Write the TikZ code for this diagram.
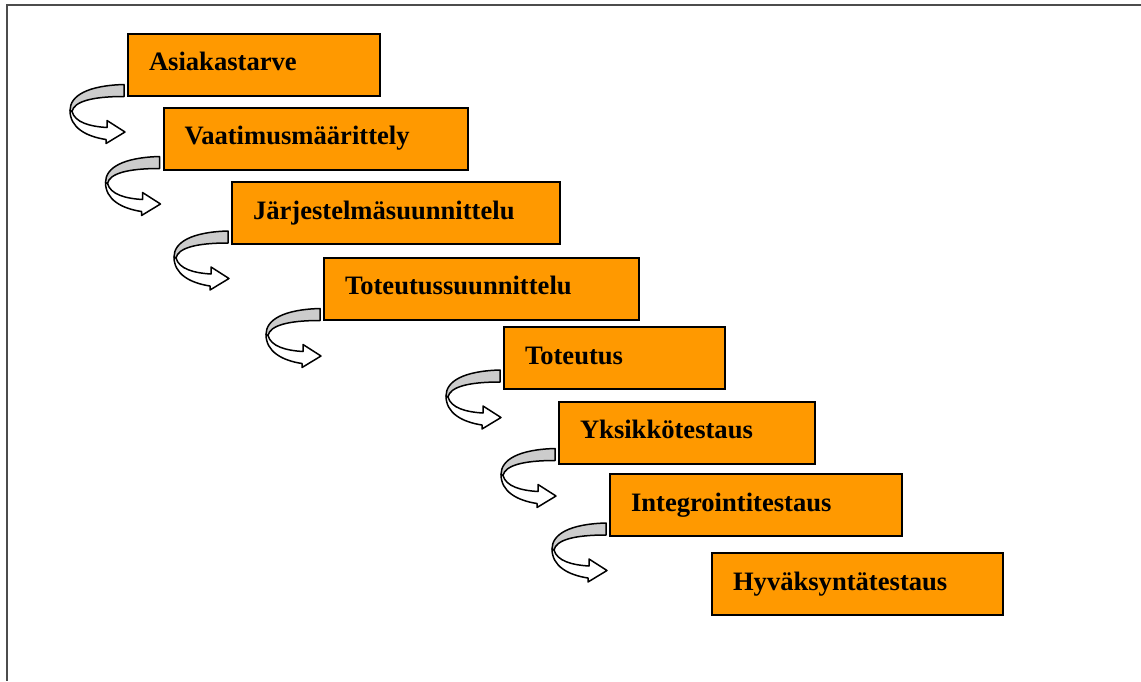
\documentclass[tikz,border=0pt]{standalone}
\usepackage{fontspec}
\setmainfont{Liberation Serif}
\usepackage{tikz}

\definecolor{stageorange}{RGB}{255,153,0}
\definecolor{bandgray}{RGB}{204,204,204}

\tikzset{
    arrowline/.style={draw=black, line width=1.5pt, line join=round},
    turnarrow/.pic={
        \draw[arrowline, fill=white] (-54,14) .. controls (-54,31) and (-38,40) .. (-18,43)
            -- (-18,47) -- (1,35.5) -- (-17,24) -- (-17,31)
            .. controls (-34,30) and (-49,26) .. (-52,15) -- cycle;
        \draw[arrowline, fill=bandgray] (0,-12) .. controls (-36,-11) and (-54,-1) .. (-54,14)
            -- (-52,15) .. controls (-50,5) and (-32,0) .. (0,0) -- cycle;
    }
}

\begin{document}
\begin{tikzpicture}[x=1pt, y=-1pt,
    stage/.style={draw=black, line width=2pt, fill=stageorange, anchor=north west,
        inner xsep=21pt, inner ysep=0pt, text height=37pt, text depth=25pt, align=left,
        font=\fontsize{26.6}{30}\selectfont\bfseries}]
    \useasboundingbox (0,0) rectangle (1141,681);
    \draw[gray!60!black, line width=1.5pt] (1141,5) -- (7,5) -- (7,681);

    \foreach \i/\x/\y/\w/\txt in {1/127/32.5/252/Asiakastarve,
                                  2/162.5/106.5/304.5/Vaatimusmäärittely,
                                  3/231/181/328/Järjestelmäsuunnittelu,
                                  4/323/256.5/315/Toteutussuunnittelu,
                                  5/503/326/221/Toteutus,
                                  6/558/400.5/256/Yksikkötestaus,
                                  7/609/473/292/Integrointitestaus,
                                  8/711/552/291/Hyväksyntätestaus} {
        \pgfmathsetmacro{\tw}{\w-42}
        \node[stage, text width=\tw pt] (B\i) at (\x,\y) {\txt};
    }

    \foreach \i/\up in {1/0, 2/2, 3/2, 4/0, 5/8, 6/4, 7/2} {
        \path (B\i.south west) ++(-3,-\up) pic {turnarrow};
    }
\end{tikzpicture}
\end{document}
